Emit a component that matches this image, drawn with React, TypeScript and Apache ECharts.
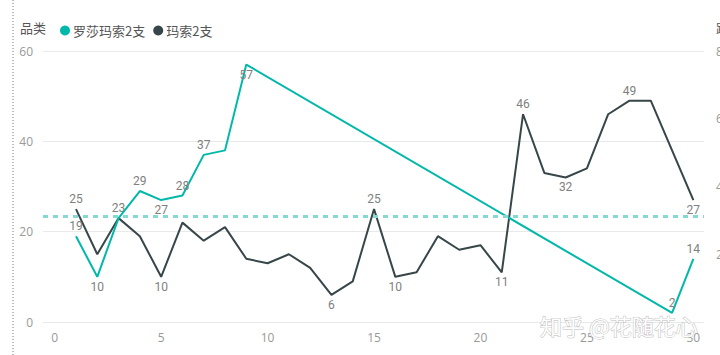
import React, { useEffect, useRef } from "react";
import * as echarts from "echarts";

// ---- data ----
const seriesNames = ["罗莎玛索2支", "玛索2支"];
const tealX = [1, 2, 3, 4, 5, 6, 7, 8, 9, 29, 30];
const tealY = [19, 10, 23, 29, 27, 28, 37, 38, 57, 2, 14];
const darkX = [1, 2, 3, 4, 5, 6, 7, 8, 9, 10, 11, 12, 13, 14, 15, 16, 17, 18, 19, 20, 21, 22, 23, 24, 25, 26, 27, 28, 30];
const darkY = [25, 15, 23, 19, 10, 22, 18, 21, 14, 13, 15, 12, 6, 9, 25, 10, 11, 19, 16, 17, 11, 46, 33, 32, 34, 46, 49, 49, 27];
const tealLabelTop = [1, 4, 6, 7, 29, 30];
const tealLabelBottom = [2, 5, 9];
const darkLabelTop = [1, 3, 15, 22, 27];
const darkLabelBottom = [5, 13, 16, 21, 24, 30];
const refLineValue = 23.4;
const xTicks = [0, 5, 10, 15, 20, 25, 30];
const leftAxisRange = [0, 60, 20];
const rightAxisRange = [0, 80, 20];
const legendTitle = "品类";
const rightAxisTitle = "距离";
const watermark = "知乎 @花随花心";

const TEAL = "#01B8AA";
const DARK = "#374649";

function buildData(xs: number[], ys: number[], top: number[], bottom: number[]) {
  return xs.map((x, i) => {
    const pos = top.includes(x) ? "top" : bottom.includes(x) ? "bottom" : null;
    return {
      value: [x, ys[i]],
      label: pos ? { show: true, position: pos } : { show: false },
    };
  });
}

export default function App() {
  const ref = useRef<HTMLDivElement>(null);
  useEffect(() => {
    document.documentElement.style.overflow = "hidden";
    document.body.style.overflow = "hidden";
    document.body.style.margin = "0";
    if (!ref.current) return;
    const chart = echarts.init(ref.current, null, { renderer: "svg" });
    const labelStyle = {
      color: "#808080",
      fontSize: 12,
      fontFamily: "Roboto",
      distance: 4,
    };
    chart.setOption({
      animation: false,
      backgroundColor: "#fff",
      grid: { left: 43, right: 16, top: 51, bottom: 33, containLabel: false, outerBoundsMode: "none" },
      legend: {
        left: 55,
        top: 19,
        icon: "circle",
        itemWidth: 10,
        itemHeight: 10,
        itemGap: 8,
        data: seriesNames,
        textStyle: { color: "#555", fontSize: 13, fontFamily: "Noto Sans CJK SC", padding: [0, 0, 0, -2] },
      },
      xAxis: {
        type: "value",
        min: -0.55,
        max: 30.5,
        axisLine: { show: false },
        axisTick: { show: false },
        splitLine: { show: false },
        axisLabel: {
          customValues: xTicks,
          color: "#999",
          fontSize: 12,
          fontFamily: "Open Sans",
          margin: 9,
        },
      },
      yAxis: [
        {
          type: "value",
          min: leftAxisRange[0],
          max: leftAxisRange[1],
          interval: leftAxisRange[2],
          axisLine: { show: false },
          axisTick: { show: false },
          splitLine: { lineStyle: { color: "#e9e9e9", width: 1 } },
          axisLabel: { color: "#999", fontSize: 12, fontFamily: "Open Sans", margin: 10 },
        },
        {
          type: "value",
          position: "right",
          min: rightAxisRange[0],
          max: rightAxisRange[1],
          interval: rightAxisRange[2],
          axisLine: { show: false },
          axisTick: { show: false },
          splitLine: { show: false },
          axisLabel: {
            color: "#999",
            fontSize: 12,
            fontFamily: "Open Sans",
            margin: 12,
            formatter: (v: number) => (v === 0 ? "" : String(v)),
          },
        },
      ],
      series: [
        {
          name: seriesNames[0],
          type: "line",
          data: buildData(tealX, tealY, tealLabelTop, tealLabelBottom),
          symbol: "circle",
          symbolSize: 0,
          showSymbol: true,
          lineStyle: { color: TEAL, width: 2 },
          itemStyle: { color: TEAL },
          label: labelStyle,
          z: 3,
          markLine: {
            silent: true,
            symbol: "none",
            label: { show: false },
            lineStyle: { color: "#86d9d2", width: 3, type: [5, 5] },
            data: [{ yAxis: refLineValue }],
          },
        },
        {
          name: seriesNames[1],
          type: "line",
          data: buildData(darkX, darkY, darkLabelTop, darkLabelBottom),
          symbol: "circle",
          symbolSize: 0,
          showSymbol: true,
          lineStyle: { color: DARK, width: 2 },
          itemStyle: { color: DARK },
          label: labelStyle,
          z: 2,
        },
      ],
      graphic: [
        {
          type: "line",
          shape: { x1: 13, y1: 0, x2: 13, y2: 355 },
          style: { stroke: "#777", lineWidth: 1, lineDash: [1, 2] },
        },
        {
          type: "text",
          x: 20,
          y: 27,
          style: {
            text: legendTitle,
            fill: "#555",
            fontSize: 13,
            fontFamily: "Noto Sans CJK SC",
            verticalAlign: "middle",
          },
        },
        {
          type: "text",
          x: 716,
          y: 27,
          style: {
            text: rightAxisTitle,
            fill: "#555",
            fontSize: 13,
            fontFamily: "Noto Sans CJK SC",
            verticalAlign: "middle",
          },
        },
        {
          type: "text",
          x: 540,
          y: 325,
          z: 100,
          style: {
            text: watermark,
            fill: "#fff",
            stroke: "#bdbdbd",
            lineWidth: 1,
            fontSize: 22,
            fontFamily: "Noto Sans CJK SC",
            verticalAlign: "middle",
          },
        },
      ],
    });
    return () => chart.dispose();
  }, []);
  return (
    <div
      ref={ref}
      style={{ position: "absolute", left: 0, top: 0, width: 720, height: 355 }}
    />
  );
}
